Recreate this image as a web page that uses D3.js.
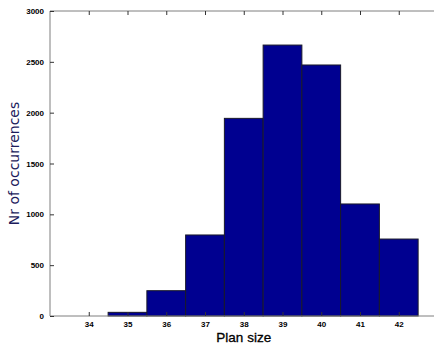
<!DOCTYPE html>
<html>
<head>
<meta charset="utf-8">
<script src="https://cdn.jsdelivr.net/npm/d3@7"></script>
<style>
  body { margin: 0; background: #fff; overflow: hidden; }
  svg { display: block; }
</style>
</head>
<body>
<div id="chart"></div>
<script>
// histogram of plan sizes
const planSizes = [34, 35, 36, 37, 38, 39, 40, 41, 42];
const counts = [0, 36, 249, 797, 1944, 2665, 2469, 1102, 757];
const yTicks = [0, 500, 1000, 1500, 2000, 2500, 3000];

const W = 434, H = 347;
const m = { top: 11, left: 50 };
const plotW = 387.5, plotH = 305;

const svg = d3.select('#chart').append('svg')
    .attr('width', W).attr('height', H);
const g = svg.append('g').attr('transform', `translate(${m.left},${m.top})`);

const x = d3.scaleLinear().domain([33, 43]).range([0, plotW]);
const y = d3.scaleLinear().domain([0, 3000]).range([plotH, 0]);
const bw = x(1) - x(0);

// bars
g.selectAll('rect.bar')
    .data(planSizes.map((p, i) => ({ p, c: counts[i] })).filter(d => d.c > 0))
    .enter().append('rect')
    .attr('class', 'bar')
    .attr('x', d => x(d.p - 0.5))
    .attr('y', d => y(d.c))
    .attr('width', bw)
    .attr('height', d => plotH - y(d.c))
    .attr('fill', '#000090')
    .attr('stroke', '#1a1a2a')
    .attr('stroke-width', 1);

// box
const axisColor = '#7f7f7f';
g.append('line').attr('x1', 0).attr('x2', plotW).attr('y1', plotH).attr('y2', plotH)
    .attr('stroke', axisColor);
g.append('line').attr('x1', 0).attr('x2', plotW).attr('y1', 0).attr('y2', 0)
    .attr('stroke', axisColor);
g.append('line').attr('x1', 0).attr('x2', 0).attr('y1', 0).attr('y2', plotH)
    .attr('stroke', axisColor);

// y ticks (inward)
const yAxis = g.append('g')
    .call(d3.axisLeft(y).tickValues(yTicks).tickSize(-4).tickPadding(6).tickFormat(d3.format('d')));
yAxis.select('.domain').remove();
yAxis.selectAll('line').attr('stroke', '#333');
yAxis.selectAll('text')
    .attr('font-family', 'Liberation Sans, Arial, sans-serif')
    .attr('font-size', '8px').attr('font-weight', 'bold').attr('fill', '#000');

// x ticks, bottom (inward) and top
const xAxis = g.append('g').attr('transform', `translate(0,${plotH})`)
    .call(d3.axisBottom(x).tickValues(planSizes).tickSize(-4).tickPadding(5).tickFormat(d3.format('d')));
xAxis.select('.domain').remove();
xAxis.selectAll('line').attr('stroke', '#333');
xAxis.selectAll('text')
    .attr('font-family', 'Liberation Sans, Arial, sans-serif')
    .attr('font-size', '8px').attr('font-weight', 'bold').attr('fill', '#000');

const xTop = g.append('g')
    .call(d3.axisTop(x).tickValues(planSizes).tickSize(-4).tickFormat(''));
xTop.select('.domain').remove();
xTop.selectAll('line').attr('stroke', '#333');

// axis titles
svg.append('text')
    .attr('x', m.left + plotW / 2).attr('y', 342)
    .attr('text-anchor', 'middle')
    .attr('font-family', 'Liberation Sans, Arial, sans-serif')
    .attr('font-size', '13.5px').attr('fill', '#000')
    .attr('stroke', '#000').attr('stroke-width', 0.3)
    .text('Plan size');

svg.append('text')
    .attr('transform', `translate(19,${m.top + plotH / 2}) rotate(-90)`)
    .attr('text-anchor', 'middle')
    .attr('font-family', 'DejaVu Sans, sans-serif')
    .attr('font-size', '14px').attr('fill', '#1c1c5c')
    .text('Nr of occurrences');
</script>
</body>
</html>
